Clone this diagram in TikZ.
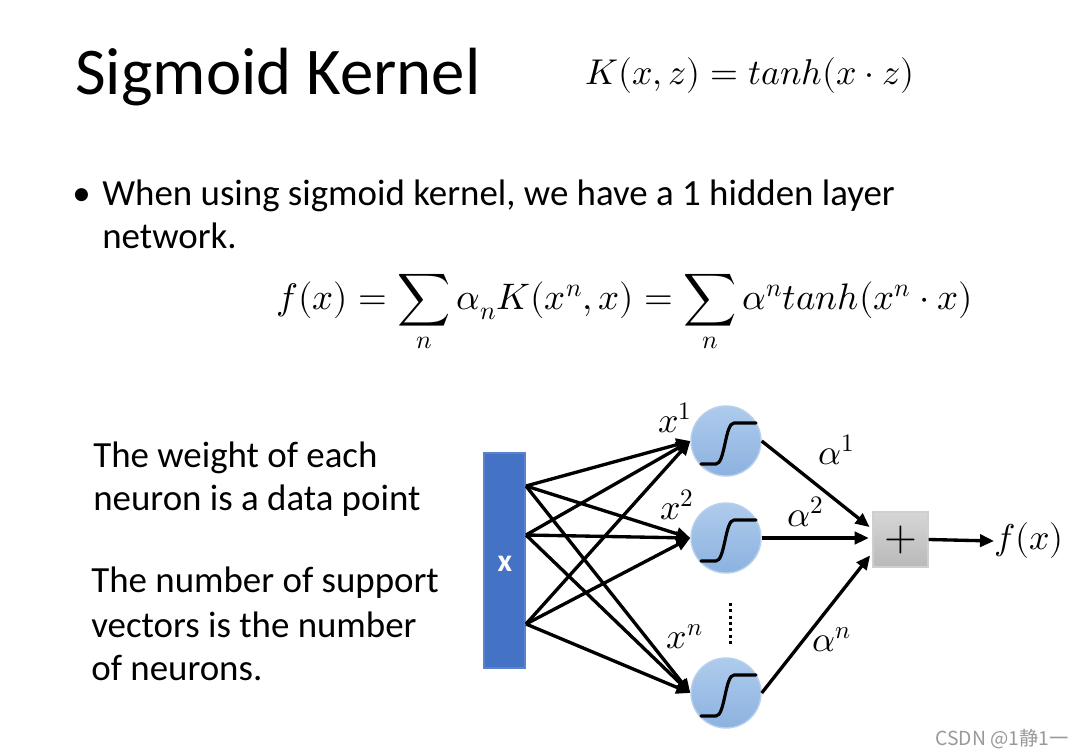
\documentclass[tikz,border=0pt]{standalone}
\usepackage{fontspec}
\usepackage{unicode-math}
\setmainfont{Carlito}
\setmathfont{Latin Modern Math}
\newfontfamily\cjk{Noto Sans CJK SC}
\usetikzlibrary{arrows.meta,calc}
\definecolor{xblue}{HTML}{4472C4}
\definecolor{xblueb}{HTML}{5B82CC}
\definecolor{ctop}{HTML}{AECBEC}
\definecolor{cbot}{HTML}{8CB2E0}
\definecolor{cborder}{HTML}{B7D0EC}
\definecolor{btop}{HTML}{D6D6D6}
\definecolor{bbot}{HTML}{B9B9B9}
\definecolor{bborder}{HTML}{CFCFCF}
\definecolor{wm}{HTML}{999999}
\begin{document}
\begin{tikzpicture}[x=0.02cm,y=-0.02cm,
  titletext/.style={font=\fontsize{38}{46}\selectfont, anchor=base west, inner sep=0},
  bodytext/.style={font=\fontsize{21}{25}\selectfont, anchor=base west, inner sep=0},
  mathtext/.style={font=\fontsize{20.4}{24}\selectfont, inner sep=0},
  xrect/.style={rectangle, fill=xblue, draw=xblueb, line width=0.6pt, minimum width=0.82cm, minimum height=4.3cm, inner sep=0, text=white, font=\fontsize{18}{20}\selectfont\bfseries},
  neuron/.style={circle, shading=axis, top color=ctop, bottom color=cbot, draw=cborder, line width=0.8pt, minimum size=1.4cm, inner sep=0},
  sumbox/.style={rectangle, shading=axis, top color=btop, bottom color=bbot, draw=bborder, line width=0.8pt, minimum size=1.1cm, inner sep=0, font=\fontsize{24}{26}\selectfont},
  conn/.style={line width=1.9pt, -{Triangle[length=8pt,width=7pt]}},
  sig/.style={line width=1.8pt, line cap=round, line join=round},
]
\useasboundingbox[fill=white] (0,0) rectangle (1084,756);

% title and formulas
\node[titletext] (title) at (75,95) {Sigmoid Kernel};
\node[mathtext, anchor=base] (kform) at (750,85) {$K(x,z) = tanh(x\cdot z)$};
\node[bodytext] (bul) at (72,206) {\textbullet};
\node[bodytext] (line1) at (102,206) {When using sigmoid kernel, we have a 1 hidden layer};
\node[bodytext] (line2) at (102,249) {network.};
\node[mathtext, anchor=base, font=\fontsize{21}{25}\selectfont] (fform) at (625,310) {$\displaystyle f(x) = \sum_n \alpha_n K(x^n,x) = \sum_n \alpha^n tanh(x^n\cdot x)$};

% left texts
\node[bodytext] (t1) at (93,467) {The weight of each};
\node[bodytext] (t2) at (93,510) {neuron is a data point};
\node[bodytext] (t3) at (91,592) {The number of support};
\node[bodytext] (t4) at (91,637) {vectors is the number};
\node[bodytext] (t5) at (91,680) {of neurons.};

% network
\node[xrect] (X) at (504.5,560.5) {};
\node[text=white, font=\fontsize{18}{20}\selectfont\bfseries, inner sep=0] (xlab) at (505,564) {x};
\coordinate (s1) at (526,486);
\coordinate (s2) at (526,535);
\coordinate (s3) at (526,624);
\node[neuron] (c1) at (726,441) {};
\node[neuron] (c2) at (726,538) {};
\node[neuron] (c3) at (726,693) {};
\foreach \c in {c1,c2,c3}{
  \draw[sig] (\c) ++(-25,23) -- ++(15,0) .. controls +(9,0) and +(-9,0) .. ++(18,-41) -- ++(22,0);
}
\foreach \s in {s1,s2,s3}{
  \foreach \c in {c1,c2,c3}{
    \draw[conn] (\s) -- (\c.west);
  }
}
\node[sumbox] (box) at (900.5,539.5) {$+$};
\draw[conn, shorten >=2pt] (c1.east) -- (box.160);
\draw[conn, shorten >=2pt] (c2.east) -- (box.west |- c2.east);
\draw[conn, shorten >=2pt] (c3.east) -- (box.205);
\node[mathtext, anchor=west] (fx) at (994,541) {$f(x)$};
\draw[conn] (box.east) -- (fx.west);

% labels
\node[mathtext] (lx1) at (675,418) {$x^1$};
\node[mathtext] (lx2) at (677,505) {$x^2$};
\node[mathtext] (lxn) at (685,637) {$x^n$};
\node[mathtext] (la1) at (837,450) {$\alpha^1$};
\node[mathtext] (la2) at (806,512) {$\alpha^2$};
\node[mathtext] (lan) at (832,640) {$\alpha^n$};
\coordinate (d1) at (730,603);
\coordinate (d2) at (730,647);
\draw[line width=1.7pt, dash pattern=on 1.8pt off 1.8pt] (d1) -- (d2);

% watermark
\node[anchor=base west, inner sep=0, text=wm, font=\cjk\fontsize{11}{13}\selectfont] (wmk) at (935,745) {CSDN @1静1一};
\end{tikzpicture}
\end{document}
